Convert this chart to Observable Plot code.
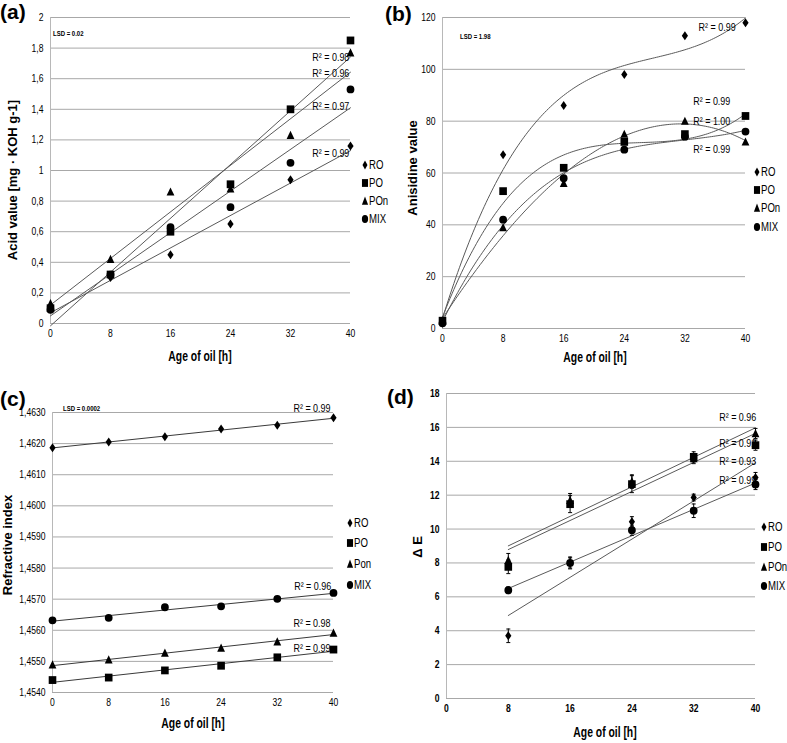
<!DOCTYPE html>
<html><head><meta charset="utf-8">
<script src="https://cdn.jsdelivr.net/npm/d3@7"></script>
<script src="https://cdn.jsdelivr.net/npm/@observablehq/plot@0.6"></script>
<style>
body{margin:0;background:#fff;}
#root{position:relative;width:787px;height:743px;overflow:hidden;background:#fff;
  font-family:"Liberation Sans",Arial,sans-serif;color:#000;}
.abs{position:absolute;}
.tag{font-weight:bold;font-size:21px;line-height:1;}
.ylab{font-weight:bold;font-size:13px;white-space:nowrap;transform:translate(-50%,-50%) rotate(-90deg);}
.xlab{font-weight:bold;font-size:14px;white-space:nowrap;transform:translate(-50%,-50%) scaleX(0.74);}
.lsd{font-weight:bold;font-size:8px;white-space:nowrap;transform-origin:0 50%;transform:translate(0,-50%) scaleX(0.75);}
.leg{display:flex;align-items:center;font-size:12px;white-space:nowrap;transform-origin:0 50%;transform:translate(0,-50%) scaleX(0.8);}
.leg svg{display:block;}
</style></head>
<body><div id="root"></div>
<script>
// ---------- data ----------
const ages = [0, 8, 16, 24, 32, 40];
const agesD = [8, 16, 24, 32, 40];
const series = ["RO", "PO", "POn", "MIX"];
const drawOrder = ["RO", "POn", "PO", "MIX"];

// (a) Acid value [mg KOH g-1]
const acidRO  = [0.10, 0.30, 0.45, 0.65, 0.94, 1.16];
const acidPO  = [0.10, 0.32, 0.60, 0.91, 1.40, 1.85];
const acidPOn = [0.13, 0.42, 0.86, 0.88, 1.23, 1.77];
const acidMIX = [0.09, 0.32, 0.63, 0.76, 1.05, 1.53];
const acidR2  = ["R² = 0.99", "R² = 0.98", "R² = 0.96", "R² = 0.97"];
const acidTicks = [0, 0.2, 0.4, 0.6, 0.8, 1, 1.2, 1.4, 1.6, 1.8, 2];

// (b) Anisidine value
const anisRO  = [2, 67, 86, 98, 113, 118];
const anisPO  = [3, 53, 62, 72, 75, 82];
const anisPOn = [3, 39, 56, 75, 80, 72];
const anisMIX = [2, 42, 58, 69, 74, 76];
const anisR2  = ["R² = 0.99", "R² = 0.99", "R² = 1.00", "R² = 0.99"];
const anisTicks = [0, 20, 40, 60, 80, 100, 120];

// (c) Refractive index
const riRO  = [1.46187, 1.46205, 1.46222, 1.46247, 1.46259, 1.46283];
const riPO  = [1.45440, 1.45448, 1.45471, 1.45486, 1.45513, 1.45538];
const riPon = [1.45489, 1.45505, 1.45527, 1.45543, 1.45563, 1.45591];
const riMIX = [1.45632, 1.45640, 1.45674, 1.45677, 1.45701, 1.45720];
const riR2  = ["R² = 0.99", "R² = 0.99", "R² = 0.98", "R² = 0.96"];
const riTicks = [1.454, 1.455, 1.456, 1.457, 1.458, 1.459, 1.460, 1.461, 1.462, 1.463];

// (d) Delta E (from 8 h) with error
const dERO  = [3.70, 8.00, 10.43, 11.86, 13.04];
const dEPO  = [7.77, 11.47, 12.65, 14.26, 14.95];
const dEPOn = [8.16, 11.70, 12.80, 14.16, 15.64];
const dEMIX = [6.39, 8.00, 9.93, 11.08, 12.63];
const errRO  = [0.40, 0.30, 0.30, 0.20, 0.30];
const errPO  = [0.40, 0.50, 0.50, 0.30, 0.30];
const errPOn = [0.40, 0.40, 0.40, 0.30, 0.30];
const errMIX = [0.20, 0.35, 0.30, 0.40, 0.30];
const dER2   = ["R² = 0.93", "R² = 0.91", "R² = 0.96", "R² = 0.99"];
const dETicks = [0, 2, 4, 6, 8, 10, 12, 14, 16, 18];

// annotation anchors (data space): [x, y] per series RO, PO, POn, MIX
const acidR2At = [[34.9, 1.113], [34.9, 1.737], [34.9, 1.638], [34.9, 1.418]];
const anisR2At = [[33.8, 116.2], [33.1, 87.8], [33.1, 79.9], [33.1, 69.3]];
const riR2At   = [[34.3, 1.46315], [34.3, 1.45543], [34.3, 1.45624], [34.4, 1.45741]];
const dER2At   = [[35.3, 13.97], [35.3, 15.05], [35.3, 16.59], [35.3, 12.89]];

// ---------- helpers ----------
function rowsOf(xs, arrs, errs) {
  return series.flatMap((s, i) => xs.map((x, k) => ({s, age: x, v: arrs[i][k], e: errs ? errs[i][k] : 0})));
}
function labelsOf(texts, at) {
  return series.map((s, i) => ({s, text: texts[i], x: at[i][0], y: at[i][1]}));
}
function polyFit(xs, ys, deg) {
  const n = deg + 1, sx = xs.map(x => x / 40);
  const A = Array.from({length: n}, (_, i) => {
    const row = Array.from({length: n}, (_, j) => d3.sum(sx, x => x ** (i + j)));
    row.push(d3.sum(sx, (x, k) => ys[k] * x ** i));
    return row;
  });
  for (let c = 0; c < n; c++) {
    let p = c; for (let r = c + 1; r < n; r++) if (Math.abs(A[r][c]) > Math.abs(A[p][c])) p = r;
    [A[c], A[p]] = [A[p], A[c]];
    for (let r = 0; r < n; r++) if (r !== c) {
      const f = A[r][c] / A[c][c];
      for (let k = c; k <= n; k++) A[r][k] -= f * A[c][k];
    }
  }
  const coef = A.map((row, i) => row[n] / row[i]);
  return x => coef.reduce((s, c, i) => s + c * (x / 40) ** i, 0);
}

// symbols
const SYM = {
  RO:  {draw(c) { c.moveTo(0, -4.5); c.lineTo(3.1, 0); c.lineTo(0, 4.5); c.lineTo(-3.1, 0); c.closePath(); }},
  PO:  {draw(c) { c.rect(-3.8, -3.9, 7.6, 7.8); }},
  POn: {draw(c) { c.moveTo(0, -4.5); c.lineTo(3.9, 3.7); c.lineTo(-3.9, 3.7); c.closePath(); }},
  MIX: {draw(c) { c.moveTo(3.9, 0); c.arc(0, 0, 3.9, 0, 2 * Math.PI); c.closePath(); }}
};
const CAP = {draw(c) { c.moveTo(-2, 0); c.lineTo(2, 0); }};

const FONT = '"Liberation Sans",Arial,sans-serif';
const comma = f => d => f(d).replace(".", ",");

function dots(rows) {
  return drawOrder.map(s => Plot.dot(rows.filter(d => d.s === s),
    {x: "age", y: "v", symbol: SYM[s], r: 4, fill: "black", stroke: "none"}));
}

function base({width, height, mL, mR, mT, mB, yDomain, yTicks, yFmt, bold, xTicks}) {
  return {
    width, height, marginLeft: mL, marginRight: mR, marginTop: mT, marginBottom: mB,
    x: {domain: [0, 40]}, y: {domain: yDomain},
    style: {fontFamily: FONT, fontSize: "11px", background: "transparent", color: "black", overflow: "visible"},
    axes: [
      Plot.gridY(yTicks, {stroke: "#a8a8a8", strokeOpacity: 1, strokeWidth: 1}),
      Plot.ruleX([0], {stroke: "#b8b8b8", strokeWidth: 1}),
      Plot.axisY(yTicks, {tickSize: 0, tickPadding: 7, tickFormat: yFmt, label: null, fontWeight: bold ? "bold" : "normal"}),
      Plot.axisX(xTicks, {tickSize: 0, tickPadding: 6, label: null, fontWeight: bold ? "bold" : "normal"})
    ]
  };
}

// narrow the SVG text like the reference's condensed face
function condense(svg, k) {
  svg.querySelectorAll("text").forEach(t => {
    const tr = t.getAttribute("transform");
    if (tr) t.setAttribute("transform", tr + ` scale(${k},1)`);
  });
  return svg;
}

function place(node, left, top) {
  const d = document.createElement("div");
  d.className = "abs"; d.style.left = left + "px"; d.style.top = top + "px";
  d.appendChild(node); root.appendChild(d); return d;
}
function html(cls, text, left, top) {
  const d = document.createElement("div");
  d.className = "abs " + cls; d.style.left = left + "px"; d.style.top = top + "px";
  d.textContent = text; root.appendChild(d); return d;
}
function legend(x, ys, names) {
  names.forEach((name, i) => {
    const d = document.createElement("div");
    d.className = "abs leg"; d.style.left = (x - 5) + "px"; d.style.top = ys[i] + "px";
    const svg = d3.create("svg").attr("width", 10).attr("height", 10).attr("viewBox", "-5 -5 10 10");
    svg.append("path").attr("d", d3.symbol(SYM[series[i]])()).attr("fill", "black");
    d.appendChild(svg.node());
    const sp = document.createElement("span"); sp.textContent = name; d.appendChild(sp);
    root.appendChild(d);
  });
}

const root = document.getElementById("root");

// ---------- (a) ----------
{
  const rows = rowsOf(ages, [acidRO, acidPO, acidPOn, acidMIX]);
  const b = base({width: 400, height: 360, mL: 50, mR: 50, mT: 17, mB: 37, yDomain: [0, 2],
    yTicks: acidTicks, yFmt: comma(d3.format("~g")), xTicks: ages});
  const p = Plot.plot({...b, marks: [...b.axes,
    Plot.linearRegressionY(rows, {x: "age", y: "v", z: "s", stroke: "#5a5a5a", strokeWidth: 1, ci: 0}),
    Plot.text(labelsOf(acidR2, acidR2At), {x: "x", y: "y", text: "text", textAnchor: "start", fontSize: 11.5}),
    ...dots(rows)]});
  place(condense(p, 0.78), 0, 0);
  html("lsd", "LSD = 0.02", 53, 33);
  legend(366, [165, 183, 201, 219], ["RO", "PO", "POn", "MIX"]);
  html("ylab", "Acid value [mg · KOH g-1]", 12, 180);
  html("xlab", "Age of oil [h]", 200, 356);
  html("tag", "(a)", 0, 1);
}

// ---------- (b) ----------
{
  const rows = rowsOf(ages, [anisRO, anisPO, anisPOn, anisMIX]);
  const xs = d3.range(0, 40.001, 0.25);
  const curves = series.flatMap((s, i) => {
    const f = polyFit(ages, [anisRO, anisPO, anisPOn, anisMIX][i], 3);
    return xs.map(x => ({s, age: x, v: f(x)}));
  });
  const b = base({width: 392, height: 360, mL: 47, mR: 42, mT: 17, mB: 32, yDomain: [0, 120],
    yTicks: anisTicks, yFmt: d3.format("d"), xTicks: ages});
  const p = Plot.plot({...b, marks: [...b.axes,
    Plot.line(curves, {x: "age", y: "v", z: "s", stroke: "#5a5a5a", strokeWidth: 1}),
    Plot.text(labelsOf(anisR2, anisR2At), {x: "x", y: "y", text: "text", textAnchor: "start", fontSize: 11.5}),
    ...dots(rows)]});
  place(condense(p, 0.78), 395, 0);
  html("lsd", "LSD = 1.98", 460, 36);
  legend(758, [172, 190, 208, 227], ["RO", "PO", "POn", "MIX"]);
  html("ylab", "Anisidine value", 412, 168);
  html("xlab", "Age of oil [h]", 595, 357);
  html("tag", "(b)", 385, 3);
}

// ---------- (c) ----------
{
  const rows = rowsOf(ages, [riRO, riPO, riPon, riMIX]);
  const b = base({width: 400, height: 383, mL: 52, mR: 67, mT: 52, mB: 51, yDomain: [1.454, 1.463],
    yTicks: riTicks, yFmt: comma(d3.format(".4f")), xTicks: ages});
  const p = Plot.plot({...b, marks: [...b.axes,
    Plot.linearRegressionY(rows, {x: "age", y: "v", z: "s", stroke: "#3a3a3a", strokeWidth: 1, ci: 0}),
    Plot.text(labelsOf(riR2, riR2At), {x: "x", y: "y", text: "text", textAnchor: "start", fontSize: 11.5}),
    ...dots(rows)]});
  place(condense(p, 0.78), 0, 360);
  html("lsd", "LSD = 0.0002", 63, 408);
  legend(351, [523, 543, 564, 585], ["RO", "PO", "Pon", "MIX"]);
  html("ylab", "Refractive index", 7, 545);
  html("xlab", "Age of oil [h]", 193, 723);
  html("tag", "(c)", 0, 388);
}

// ---------- (d) ----------
{
  const rows = rowsOf(agesD, [dERO, dEPO, dEPOn, dEMIX], [errRO, errPO, errPOn, errMIX]);
  const b = base({width: 392, height: 383, mL: 51, mR: 32, mT: 33, mB: 45, yDomain: [0, 18],
    yTicks: dETicks, yFmt: d3.format("d"), bold: true, xTicks: [0, ...agesD]});
  const p = Plot.plot({...b, marks: [...b.axes,
    Plot.linearRegressionY(rows, {x: "age", y: "v", z: "s", stroke: "#5a5a5a", strokeWidth: 1, ci: 0}),
    Plot.text(labelsOf(dER2, dER2At), {x: "x", y: "y", text: "text", textAnchor: "start", fontSize: 11.5}),
    Plot.ruleX(rows, {x: "age", y1: d => d.v - d.e, y2: d => d.v + d.e, stroke: "black", strokeWidth: 1}),
    Plot.dot(rows, {x: "age", y: d => d.v - d.e, symbol: CAP, stroke: "black", strokeWidth: 1}),
    Plot.dot(rows, {x: "age", y: d => d.v + d.e, symbol: CAP, stroke: "black", strokeWidth: 1}),
    ...dots(rows)]});
  place(condense(p, 0.78), 395, 360);
  legend(765, [527, 547, 567, 586], ["RO", "PO", "POn", "MIX"]);
  html("ylab", "Δ E", 417, 547);
  html("xlab", "Age of oil [h]", 605, 732);
  html("tag", "(d)", 387, 386);
}
</script></body></html>
